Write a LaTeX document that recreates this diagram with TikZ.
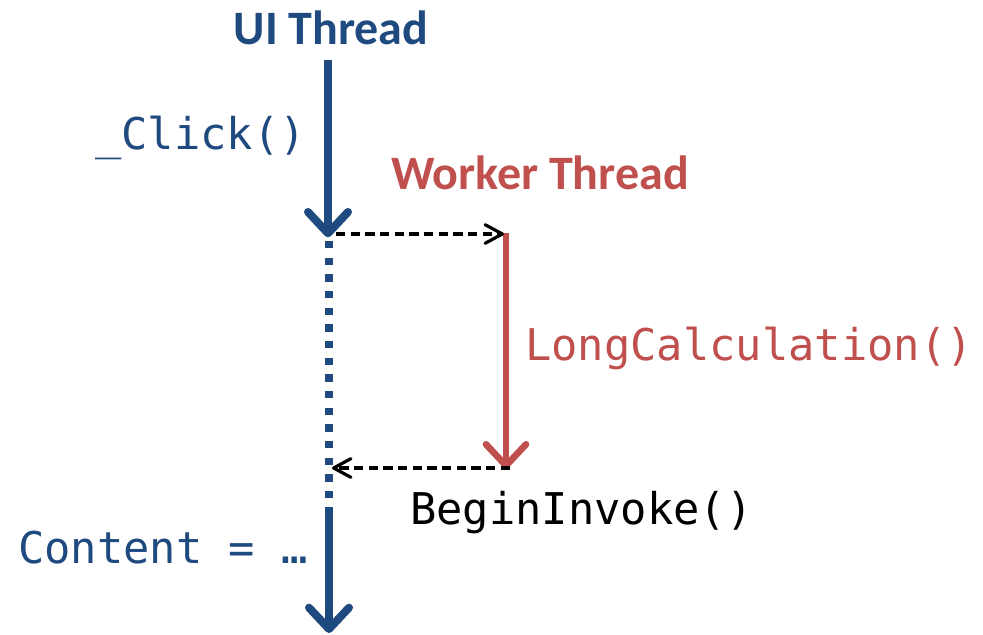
\documentclass[tikz,border=0pt]{standalone}
\usepackage{fontspec}
\setmainfont{Carlito}
\newfontfamily\codefont{DejaVu Sans Mono}
\usetikzlibrary{arrows.meta}
\definecolor{uiblue}{HTML}{1F4A7F}
\definecolor{workred}{HTML}{C0504D}
\tikzset{
  threadtitle/.style={font=\fontsize{36}{40}\selectfont\bfseries, inner sep=0pt},
  codelabel/.style={font=\codefont\fontsize{32.8}{36}\selectfont, inner sep=0pt, anchor=base west},
  thickarrow/.style={line width=6pt, -{Straight Barb[length=16pt, width=30pt, round]}},
  handoff/.style={draw=black, line width=2.4pt, dash pattern=on 7pt off 4pt,
    -{Straight Barb[length=13pt, width=14pt, round]}},
  waiting/.style={draw=uiblue, line width=5.4pt, dash pattern=on 5.4pt off 7.1pt}
}
\begin{document}
\begin{tikzpicture}[x=0.75pt, y=-0.75pt]
  \useasboundingbox (0,0) rectangle (983,635);

  % thread titles
  \node[threadtitle, text=uiblue] (uititle) at (331,28) {UI Thread};
  \node[threadtitle, text=workred] (wtitle) at (540,173) {Worker Thread};

  % UI thread timeline
  \coordinate (uitop) at (328,60);
  \coordinate (uifork) at (328,236);
  \coordinate (uidotstart) at (329,241);
  \coordinate (uidotend) at (329,503);
  \coordinate (uijoin) at (332,468);
  \coordinate (uiresume) at (329,507);
  \coordinate (uiend) at (329,633);

  % worker thread timeline
  \coordinate (wtop) at (506,233);
  \coordinate (wend) at (506,469);
  \coordinate (wstart) at (504,234);
  \coordinate (wret) at (510,468);
  \coordinate (uiout) at (336,234);

  \draw[thickarrow, uiblue, shorten >=-1pt] (uitop) -- (uifork);
  \draw[waiting] (uidotstart) -- (uidotend);
  \draw[thickarrow, uiblue] (uiresume) -- (uiend);
  \draw[thickarrow, workred, line width=5pt] (wtop) -- (wend);

  % hand-offs between the threads
  \draw[handoff] (uiout) -- (wstart);
  \draw[handoff] (wret) -- (uijoin);

  % code labels
  \node[codelabel, text=uiblue] (click) at (95,150) {\_Click()};
  \node[codelabel, text=workred] (calc) at (525,360) {LongCalculation()};
  \node[codelabel, text=black] (invoke) at (410,524) {BeginInvoke()};
  \node[codelabel, text=uiblue] (content) at (18,563) {Content = …};
\end{tikzpicture}
\end{document}
